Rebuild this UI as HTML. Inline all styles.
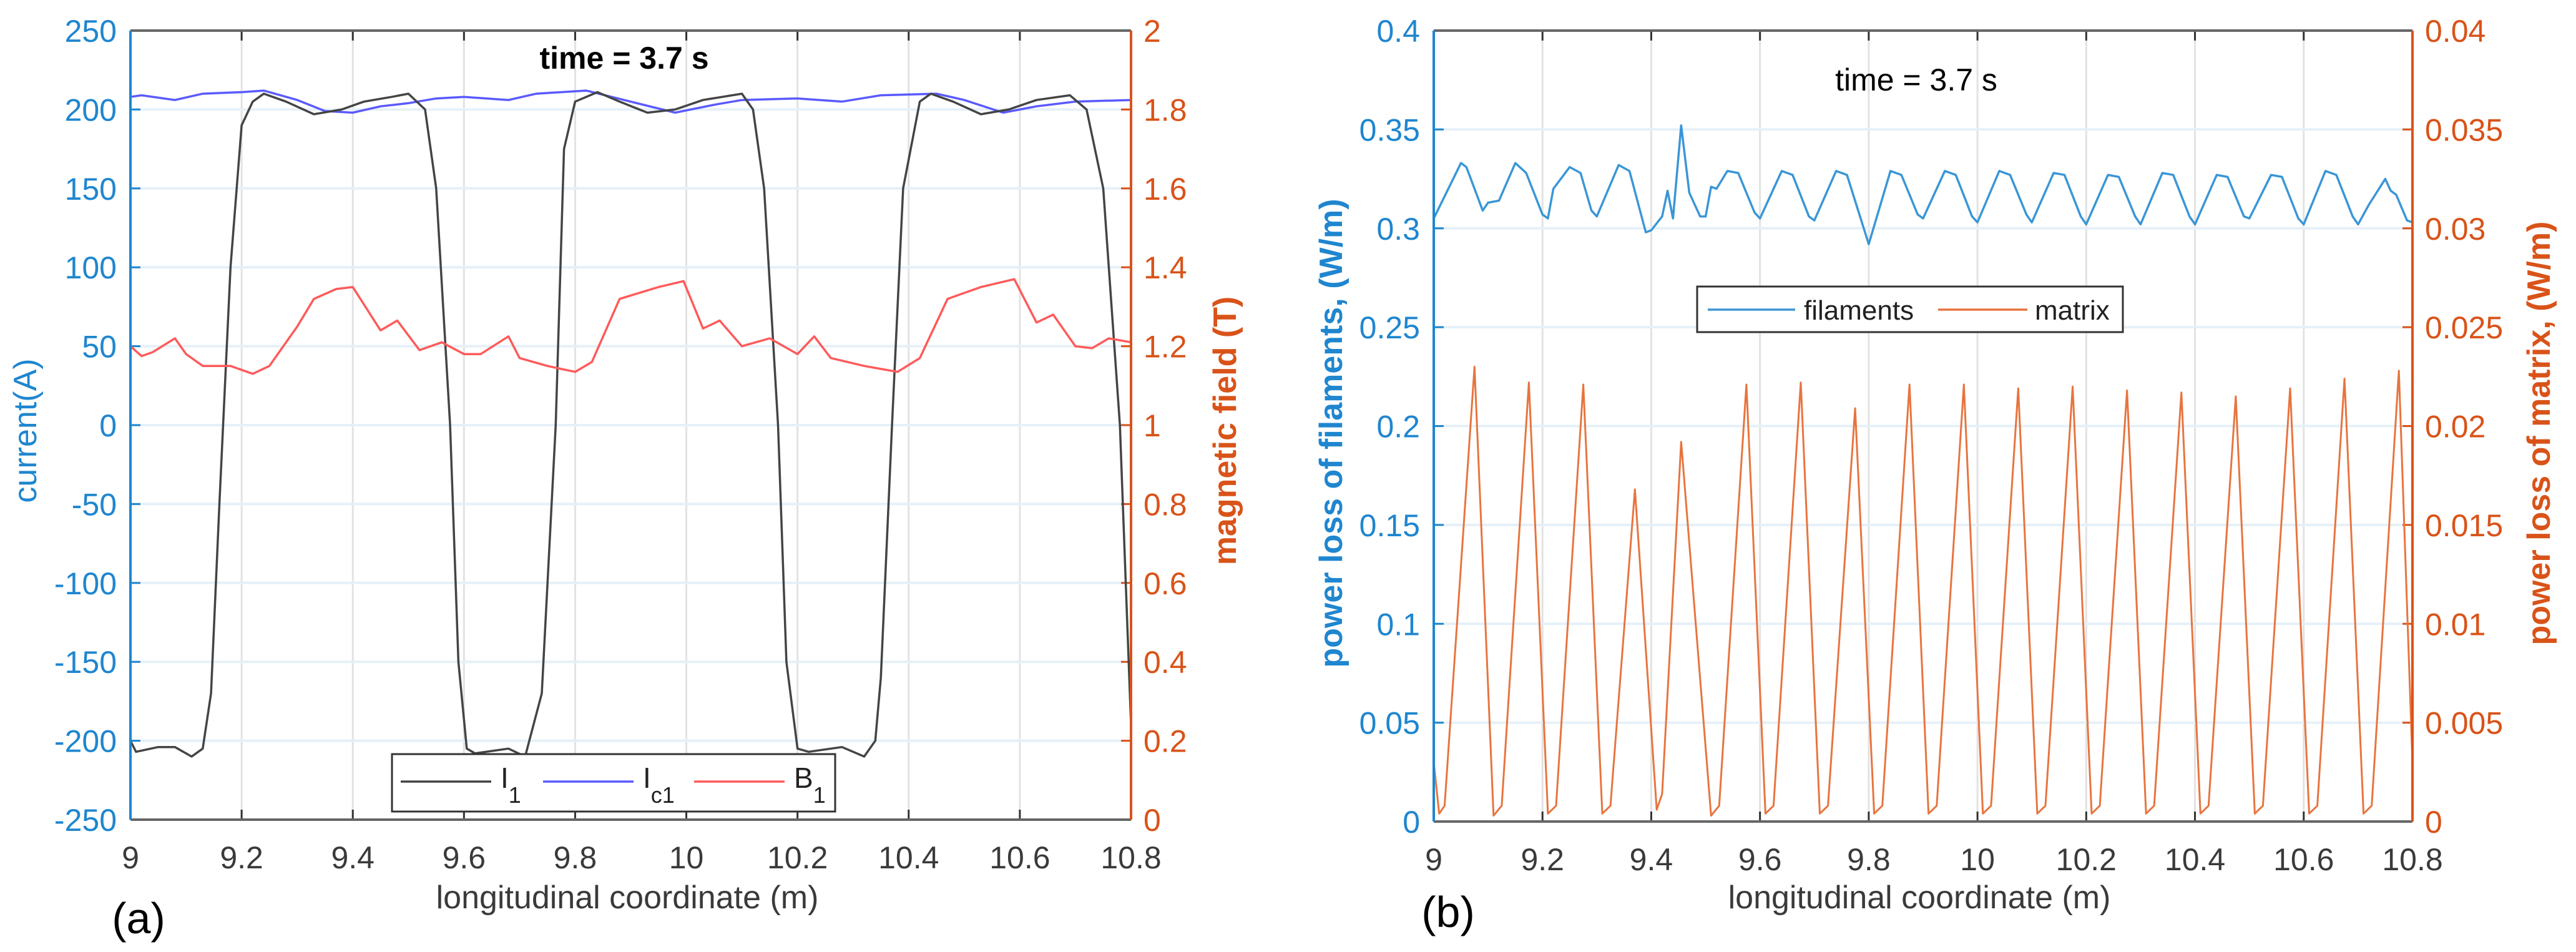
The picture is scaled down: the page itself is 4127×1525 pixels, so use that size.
<!DOCTYPE html>
<html><head><meta charset="utf-8">
<style>
html,body{margin:0;padding:0;background:#fff;}
svg{display:block;font-family:"Liberation Sans",sans-serif;}
</style></head>
<body>
<svg id="fig" width="4127" height="1525" viewBox="0 0 4127 1525" xmlns="http://www.w3.org/2000/svg">
<g id="pa"></g>
<g id="pb"></g>
</svg>
<script>
// ---------- Panel (a) data ----------
const xTicks = [9, 9.2, 9.4, 9.6, 9.8, 10, 10.2, 10.4, 10.6, 10.8];
const xTickLabels = ["9","9.2","9.4","9.6","9.8","10","10.2","10.4","10.6","10.8"];
const aLeftTicks = [-250,-200,-150,-100,-50,0,50,100,150,200,250];
const aRightTicks = [0,0.2,0.4,0.6,0.8,1,1.2,1.4,1.6,1.8,2];
const aRightTickLabels = ["0","0.2","0.4","0.6","0.8","1","1.2","1.4","1.6","1.8","2"];
const i1X = [9.0,9.01,9.05,9.08,9.11,9.13,9.145,9.16,9.18,9.2,9.22,9.24,9.28,9.33,9.38,9.42,9.47,9.5,9.53,9.55,9.575,9.59,9.605,9.62,9.68,9.71,9.74,9.765,9.78,9.8,9.84,9.88,9.93,9.98,10.03,10.1,10.12,10.14,10.165,10.18,10.2,10.22,10.28,10.32,10.34,10.35,10.37,10.39,10.42,10.44,10.48,10.53,10.58,10.63,10.69,10.72,10.75,10.78,10.8];
const i1Y = [-200,-207,-204,-204,-210,-205,-170,-50,100,190,205,210,205,197,200,205,208,210,200,150,0,-150,-205,-208,-205,-210,-170,0,175,205,211,205,198,200,206,210,200,150,0,-150,-205,-207,-204,-210,-200,-160,0,150,205,210,205,197,200,206,209,200,150,0,-190];
const ic1X = [9.0,9.02,9.08,9.13,9.2,9.24,9.3,9.35,9.4,9.45,9.5,9.55,9.6,9.68,9.73,9.82,9.9,9.98,10.05,10.1,10.2,10.28,10.35,10.45,10.5,10.57,10.63,10.7,10.8];
const ic1Y = [208,209,206,210,211,212,206,199,198,202,204,207,208,206,210,212,205,198,203,206,207,205,209,210,206,198,202,205,206];
const b1X = [9.0,9.02,9.04,9.08,9.1,9.13,9.18,9.22,9.25,9.3,9.33,9.37,9.4,9.45,9.48,9.52,9.56,9.6,9.63,9.68,9.7,9.75,9.8,9.83,9.88,9.95,9.995,10.03,10.06,10.1,10.15,10.2,10.23,10.26,10.32,10.38,10.42,10.47,10.53,10.59,10.63,10.66,10.7,10.73,10.76,10.8];
const b1Y = [1.2,1.175,1.185,1.22,1.18,1.15,1.15,1.13,1.15,1.25,1.32,1.345,1.35,1.24,1.265,1.19,1.21,1.18,1.18,1.225,1.17,1.15,1.135,1.16,1.32,1.35,1.365,1.245,1.265,1.2,1.22,1.18,1.225,1.17,1.15,1.135,1.17,1.32,1.35,1.37,1.26,1.28,1.2,1.195,1.22,1.21];

// ---------- Panel (b) data ----------
const bLeftTicks = [0,0.05,0.1,0.15,0.2,0.25,0.3,0.35,0.4];
const bLeftTickLabels = ["0","0.05","0.1","0.15","0.2","0.25","0.3","0.35","0.4"];
const bRightTicks = [0,0.005,0.01,0.015,0.02,0.025,0.03,0.035,0.04];
const bRightTickLabels = ["0","0.005","0.01","0.015","0.02","0.025","0.03","0.035","0.04"];
const filX = [9.0,9.05,9.06,9.09,9.1,9.12,9.15,9.17,9.2,9.21,9.22,9.25,9.27,9.29,9.3,9.34,9.36,9.39,9.4,9.42,9.43,9.44,9.455,9.47,9.49,9.5,9.51,9.52,9.54,9.56,9.59,9.6,9.64,9.66,9.69,9.7,9.74,9.76,9.8,9.84,9.86,9.89,9.9,9.94,9.96,9.99,10.0,10.04,10.06,10.09,10.1,10.14,10.16,10.19,10.2,10.24,10.26,10.29,10.3,10.34,10.36,10.39,10.4,10.44,10.46,10.49,10.5,10.54,10.56,10.59,10.6,10.64,10.66,10.69,10.7,10.72,10.75,10.76,10.77,10.79,10.8];
const filY = [0.305,0.333,0.331,0.309,0.313,0.314,0.333,0.328,0.307,0.305,0.320,0.331,0.328,0.309,0.306,0.332,0.329,0.298,0.299,0.306,0.319,0.305,0.352,0.318,0.306,0.306,0.321,0.320,0.329,0.328,0.308,0.305,0.329,0.327,0.306,0.304,0.329,0.327,0.292,0.329,0.327,0.307,0.305,0.329,0.327,0.306,0.303,0.329,0.327,0.307,0.303,0.328,0.327,0.306,0.302,0.327,0.326,0.306,0.302,0.328,0.327,0.306,0.302,0.327,0.326,0.306,0.305,0.327,0.326,0.305,0.302,0.329,0.327,0.306,0.302,0.312,0.325,0.319,0.317,0.304,0.303];
const matPeakX = [9.075,9.175,9.275,9.37,9.455,9.575,9.675,9.775,9.875,9.975,10.075,10.175,10.275,10.375,10.475,10.575,10.675,10.775];
const matPeakY = [0.023,0.0222,0.0221,0.0168,0.0192,0.0221,0.0222,0.0209,0.0221,0.0221,0.0219,0.022,0.0218,0.0217,0.0215,0.0219,0.0224,0.0228];
const matTroughX = [9.0,9.01,9.02,9.11,9.125,9.21,9.225,9.31,9.325,9.41,9.42,9.51,9.525,9.61,9.625,9.71,9.725,9.81,9.825,9.91,9.925,10.01,10.025,10.11,10.125,10.21,10.225,10.31,10.325,10.41,10.425,10.51,10.525,10.61,10.625,10.71,10.725,10.8];
const matTroughY = [0.003,0.0004,0.0008,0.0003,0.0008,0.0004,0.0008,0.0004,0.0008,0.0006,0.0014,0.0003,0.0008,0.0004,0.0008,0.0004,0.0008,0.0004,0.0008,0.0004,0.0008,0.0004,0.0008,0.0004,0.0008,0.0004,0.0008,0.0004,0.0008,0.0004,0.0008,0.0004,0.0008,0.0004,0.0008,0.0004,0.0008,0.003];

const NS = "http://www.w3.org/2000/svg";
function mk(parent, tag, attrs, text){
  const e = document.createElementNS(NS, tag);
  for (const k in attrs) e.setAttribute(k, attrs[k]);
  if (text !== undefined) e.textContent = text;
  parent.appendChild(e);
  return e;
}
const BLUE = "#1f86cf", ORANGE = "#d95319", GRAY = "#333333";

function linePath(xs, ys, sx, sy){
  let d = "";
  for (let i = 0; i < xs.length; i++) d += (i ? "L" : "M") + sx(xs[i]).toFixed(1) + "," + sy(ys[i]).toFixed(1);
  return d;
}

function frame(g, box, lt, ltl, rt, rtl, ly0, ly1, ry0, ry1){
  const sx = v => box.L + (v - 9) / 1.8 * (box.R - box.L);
  const syL = v => box.B - (v - ly0) / (ly1 - ly0) * (box.B - box.T);
  const syR = v => box.B - (v - ry0) / (ry1 - ry0) * (box.B - box.T);
  const grid = mk(g, "g", {});
  
  
  xTicks.forEach(t => mk(grid, "line", {x1: sx(t), x2: sx(t), y1: box.T, y2: box.B, stroke: "#e2e2e2", "stroke-width": 3}));
  lt.forEach(t => mk(grid, "line", {x1: box.L, x2: box.R, y1: syL(t), y2: syL(t), stroke: "#e6f0f8", "stroke-width": 4}));
  // ticks & labels
  const xl = mk(g, "g", {});
  
  
  xTicks.forEach((t, i) => {
    mk(xl, "line", {x1: sx(t), x2: sx(t), y1: box.B, y2: box.B - 16, stroke: GRAY, "stroke-width": 3});
    mk(xl, "line", {x1: sx(t), x2: sx(t), y1: box.T, y2: box.T + 16, stroke: GRAY, "stroke-width": 3});
    mk(xl, "text", {x: sx(t), y: box.B + 78, "text-anchor": "middle", "font-size": 50, fill: "#3a3a3a"}, xTickLabels[i]);
  });
  const yl = mk(g, "g", {});
  
  
  lt.forEach((t, i) => {
    mk(yl, "line", {x1: box.L, x2: box.L + 16, y1: syL(t), y2: syL(t), stroke: BLUE, "stroke-width": 3});
    mk(yl, "text", {x: box.L - 22, y: syL(t) + 18, "text-anchor": "end", "font-size": 50, fill: BLUE}, ltl[i]);
  });
  const yr = mk(g, "g", {});
  
  
  rt.forEach((t, i) => {
    mk(yr, "line", {x1: box.R, x2: box.R - 16, y1: syR(t), y2: syR(t), stroke: ORANGE, "stroke-width": 3});
    mk(yr, "text", {x: box.R + 20, y: syR(t) + 18, "text-anchor": "start", "font-size": 50, fill: ORANGE}, rtl[i]);
  });
  return {sx, syL, syR};
}
function axesBox(g, box){
  mk(g, "line", {x1: box.L, x2: box.R, y1: box.T, y2: box.T, stroke: "#666", "stroke-width": 4});
  mk(g, "line", {x1: box.L, x2: box.R, y1: box.B, y2: box.B, stroke: "#666", "stroke-width": 4});
  mk(g, "line", {x1: box.L, x2: box.L, y1: box.T, y2: box.B, stroke: BLUE, "stroke-width": 4});
  mk(g, "line", {x1: box.R, x2: box.R, y1: box.T, y2: box.B, stroke: ORANGE, "stroke-width": 4});
}

// ---------- Panel (a) ----------
(function(){
  const g = document.getElementById("pa");
  const box = {L: 209, R: 1812, T: 49, B: 1313};
  const s = frame(g, box, aLeftTicks, aLeftTicks.map(String), aRightTicks, aRightTickLabels, -250, 250, 0, 2);
  const ic = mk(g, "path", {d: linePath(ic1X, ic1Y, s.sx, s.syL), fill: "none", stroke: "#5a5aff", "stroke-width": 3.5});
  
  
  const i1 = mk(g, "path", {d: linePath(i1X, i1Y, s.sx, s.syL), fill: "none", stroke: "#444", "stroke-width": 3.5, "stroke-linejoin": "round"});
  
  
  const b1 = mk(g, "path", {d: linePath(b1X, b1Y, s.sx, s.syR), fill: "none", stroke: "#ff5a5a", "stroke-width": 3.5, "stroke-linejoin": "round"});
  
  
  axesBox(g, box);
  const t = mk(g, "text", {x: 1000, y: 110, "text-anchor": "middle", "font-size": 50, "font-weight": "bold", fill: "#000"}, "time = 3.7 s");
  
  
  const yl = mk(g, "text", {x: 0, y: 0, transform: "translate(58,690) rotate(-90)", "text-anchor": "middle", "font-size": 52, fill: BLUE}, "current(A)");
  
  
  const yr = mk(g, "text", {x: 0, y: 0, transform: "translate(1980,690) rotate(-90)", "text-anchor": "middle", "font-size": 52, "font-weight": "bold", fill: ORANGE}, "magnetic field (T)");
  
  
  const xt = mk(g, "text", {x: 1005, y: 1455, "text-anchor": "middle", "font-size": 52, fill: "#3a3a3a"}, "longitudinal coordinate (m)");
  
  
  const pl = mk(g, "text", {x: 222, y: 1495, "text-anchor": "middle", "font-size": 70, fill: "#000"}, "(a)");
  
  
  const lg = mk(g, "g", {});
  
  
  mk(lg, "rect", {x: 628, y: 1208, width: 710, height: 92, fill: "#fff", stroke: "#333", "stroke-width": 3});
  const items = [["#444", "I", "1", 642], ["#5a5aff", "I", "c1", 870], ["#ff5a5a", "B", "1", 1112]];
  items.forEach(it => {
    mk(lg, "line", {x1: it[3], x2: it[3] + 145, y1: 1252, y2: 1252, stroke: it[0], "stroke-width": 3.5});
    const tx = mk(lg, "text", {x: it[3] + 160, y: 1262, "font-size": 46, fill: "#222"}, it[1]);
    mk(tx, "tspan", {dy: 24, "font-size": 36}, it[2]);
  });
})();

// ---------- Panel (b) ----------
(function(){
  const g = document.getElementById("pb");
  const box = {L: 2297, R: 3865, T: 49, B: 1316};
  const s = frame(g, box, bLeftTicks, bLeftTickLabels, bRightTicks, bRightTickLabels, 0, 0.4, 0, 0.04);
  const mp = [];
  matPeakX.forEach((x, i) => mp.push([x, matPeakY[i]]));
  matTroughX.forEach((x, i) => mp.push([x, matTroughY[i]]));
  mp.sort((a, b) => a[0] - b[0]);
  const mat = mk(g, "path", {d: linePath(mp.map(p => p[0]), mp.map(p => p[1]), s.sx, s.syR), fill: "none", stroke: "#e8743e", "stroke-width": 3, "stroke-linejoin": "round"});
  
  
  const fil = mk(g, "path", {d: linePath(filX, filY, s.sx, s.syL), fill: "none", stroke: "#3a96d6", "stroke-width": 3.5, "stroke-linejoin": "round"});
  
  
  axesBox(g, box);
  const t = mk(g, "text", {x: 3070, y: 145, "text-anchor": "middle", "font-size": 50, fill: "#000"}, "time = 3.7 s");
  
  
  const yl = mk(g, "text", {x: 0, y: 0, transform: "translate(2150,694) rotate(-90)", "text-anchor": "middle", "font-size": 52, "font-weight": "bold", fill: BLUE}, "power loss of filaments, (W/m)");
  
  
  const yr = mk(g, "text", {x: 0, y: 0, transform: "translate(4085,694) rotate(-90)", "text-anchor": "middle", "font-size": 52, "font-weight": "bold", fill: ORANGE}, "power loss of matrix, (W/m)");
  
  
  const xt = mk(g, "text", {x: 3075, y: 1455, "text-anchor": "middle", "font-size": 52, fill: "#3a3a3a"}, "longitudinal coordinate (m)");
  
  
  const pl = mk(g, "text", {x: 2320, y: 1485, "text-anchor": "middle", "font-size": 70, fill: "#000"}, "(b)");
  
  
  const lg = mk(g, "g", {});
  
  
  mk(lg, "rect", {x: 2719, y: 459, width: 682, height: 73, fill: "#fff", stroke: "#333", "stroke-width": 3});
  mk(lg, "line", {x1: 2736, x2: 2876, y1: 496, y2: 496, stroke: "#3a96d6", "stroke-width": 3.5});
  mk(lg, "text", {x: 2890, y: 512, "font-size": 44, fill: "#222"}, "filaments");
  mk(lg, "line", {x1: 3105, x2: 3248, y1: 496, y2: 496, stroke: "#e8743e", "stroke-width": 3.5});
  mk(lg, "text", {x: 3260, y: 512, "font-size": 44, fill: "#222"}, "matrix");
})();
</script>
</body></html>
